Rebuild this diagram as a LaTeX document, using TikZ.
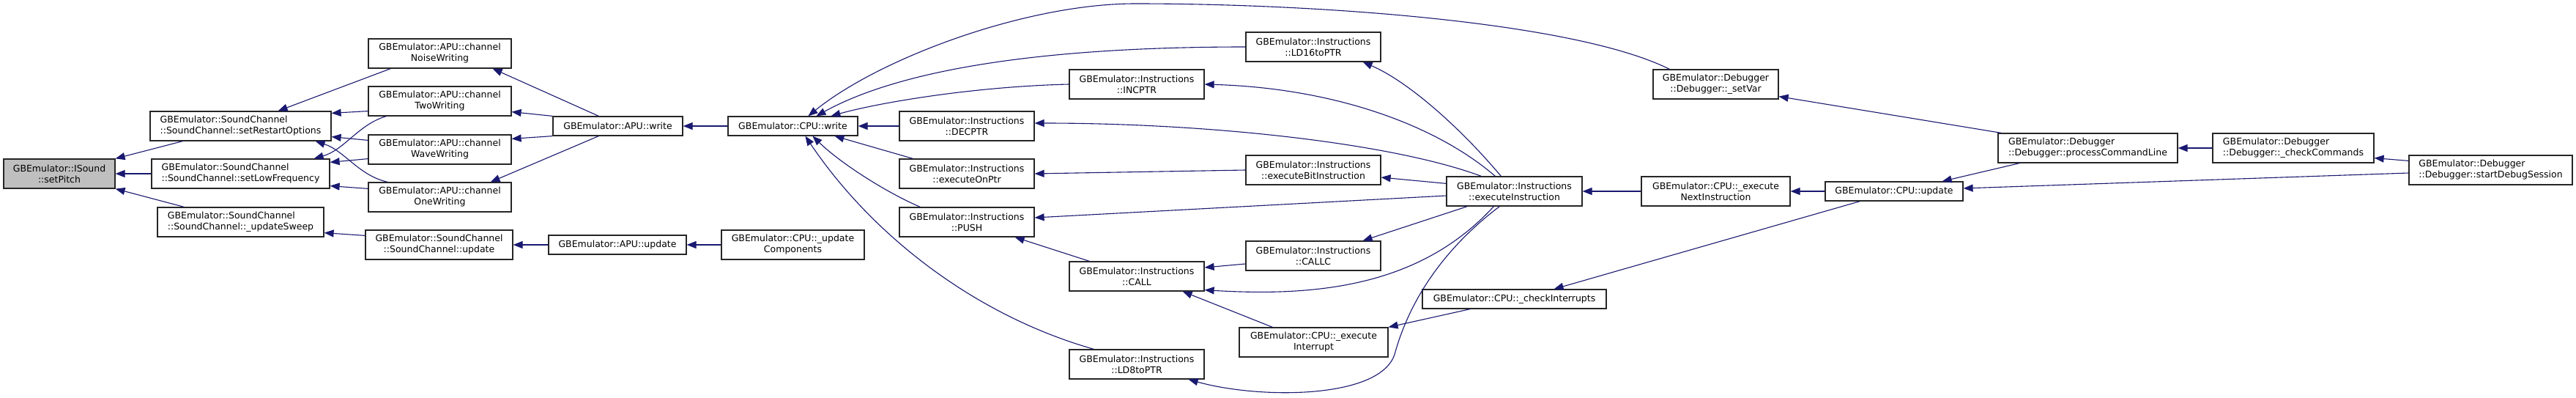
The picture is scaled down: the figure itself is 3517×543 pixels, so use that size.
\documentclass[tikz,border=0pt]{standalone}
\usepackage{fontspec}
\setmainfont{DejaVu Sans}
\usepackage{xcolor}
\usepackage{tikz}
\usetikzlibrary{arrows.meta,calc}

\definecolor{edgeblue}{HTML}{191970}
\definecolor{rootgray}{HTML}{BFBFBF}

\begin{document}
\begin{tikzpicture}[x=1pt,y=-1pt,
  fn/.style={draw=black!85,line width=1.2pt,inner xsep=4pt,inner ysep=0pt,
    minimum height=40pt,font=\fontsize{12.5}{15}\selectfont,align=center},
  fnl/.style={fn,align=left},
  fnone/.style={fn,minimum height=26pt},
  calls/.style={edgeblue,line width=1.1pt,-{Triangle[length=13pt,width=10pt]}}]
  \fill[white] (0,0) rectangle (3517,543);
  \useasboundingbox (0,0) rectangle (3517,543);

  % sound channel side
  \node[fn,fill=rootgray,minimum width=152pt] (setPitch) at (81,237) {GBEmulator::ISound\\::setPitch};
  \node[fnl,minimum width=247pt] (restartOpt) at (328.5,172) {GBEmulator::SoundChannel\\::SoundChannel::setRestartOptions};
  \node[fnl,minimum width=243pt] (lowFreq) at (328.5,237) {GBEmulator::SoundChannel\\::SoundChannel::setLowFrequency};
  \node[fnl,minimum width=227pt] (updSweep) at (328.5,303) {GBEmulator::SoundChannel\\::SoundChannel::\_updateSweep};
  \node[fn,minimum width=195pt] (noiseWr) at (600.5,73) {GBEmulator::APU::channel\\NoiseWriting};
  \node[fn,minimum width=195pt] (twoWr) at (600.5,138) {GBEmulator::APU::channel\\TwoWriting};
  \node[fn,minimum width=195pt] (waveWr) at (600.5,204) {GBEmulator::APU::channel\\WaveWriting};
  \node[fn,minimum width=195pt] (oneWr) at (600.5,269) {GBEmulator::APU::channel\\OneWriting};
  \node[fn,minimum width=201pt] (scUpdate) at (599.5,334) {GBEmulator::SoundChannel\\::SoundChannel::update};
  \node[fnone,minimum width=177pt] (apuWrite) at (843.5,172) {GBEmulator::APU::write};
  \node[fnone,minimum width=188pt] (apuUpdate) at (843,334) {GBEmulator::APU::update};
  \node[fnone,minimum width=177pt] (cpuWrite) at (1082.5,172) {GBEmulator::CPU::write};
  \node[fn,minimum width=195pt] (updComp) at (1082.5,334) {GBEmulator::CPU::\_update\\Components};

  % instructions
  \node[fn,minimum width=184pt] (decPtr) at (1320,172) {GBEmulator::Instructions\\::DECPTR};
  \node[fn,minimum width=184pt] (execOnPtr) at (1320,237) {GBEmulator::Instructions\\::executeOnPtr};
  \node[fn,minimum width=184pt] (push) at (1320,303) {GBEmulator::Instructions\\::PUSH};
  \node[fn,minimum width=184pt] (incPtr) at (1552,115) {GBEmulator::Instructions\\::INCPTR};
  \node[fn,minimum width=184pt] (callI) at (1552,377) {GBEmulator::Instructions\\::CALL};
  \node[fn,minimum width=184pt] (ld8) at (1552,497) {GBEmulator::Instructions\\::LD8toPTR};
  \node[fn,minimum width=184pt] (ld16) at (1793,64) {GBEmulator::Instructions\\::LD16toPTR};
  \node[fn,minimum width=184pt] (execBit) at (1793,232) {GBEmulator::Instructions\\::executeBitInstruction};
  \node[fn,minimum width=184pt] (callC) at (1793,349) {GBEmulator::Instructions\\::CALLC};
  \node[fn,minimum width=203pt] (execInt) at (1793.5,467) {GBEmulator::CPU::\_execute\\Interrupt};
  \node[fn,minimum width=185pt] (execInstr) at (2067.5,261) {GBEmulator::Instructions\\::executeInstruction};
  \node[fnone,minimum width=251pt] (checkInt) at (2067.5,408) {GBEmulator::CPU::\_checkInterrupts};

  % cpu and debugger
  \node[fn,minimum width=171pt] (setVar) at (2342.5,115) {GBEmulator::Debugger\\::Debugger::\_setVar};
  \node[fn,minimum width=203pt] (execNext) at (2342.5,261) {GBEmulator::CPU::\_execute\\NextInstruction};
  \node[fnone,minimum width=188pt] (cpuUpdate) at (2586,261) {GBEmulator::CPU::update};
  \node[fnl,minimum width=245pt] (procCmd) at (2850.5,202) {GBEmulator::Debugger\\::Debugger::processCommandLine};
  \node[fnl,minimum width=220pt] (checkCmd) at (3131,202) {GBEmulator::Debugger\\::Debugger::\_checkCommands};
  \node[fnl,minimum width=223pt] (startDbg) at (3400.5,232) {GBEmulator::Debugger\\::Debugger::startDebugSession};

  % callers of setPitch and the sound channel
  \draw[calls] ($(restartOpt.south west)+(45,0)$) -- (setPitch.north east);
  \draw[calls] (lowFreq.west) -- (setPitch.east);
  \draw[calls] ($(updSweep.north west)+(37,0)$) -- (setPitch.south east);
  \draw[calls] ($(noiseWr.south west)+(31,0)$) -- ($(restartOpt.north east)+(-73,0)$);
  \draw[calls] ($(twoWr.south west)+(0,-7)$) -- ($(restartOpt.north east)+(0,3)$);
  \draw[calls] ($(waveWr.north west)+(0,8)$) -- ($(restartOpt.south east)+(0,-6)$);
  \draw[calls] ($(oneWr.north west)+(27,0)$) .. controls +(-40,-9) and +(40,13) .. ($(restartOpt.south east)+(-22,0)$);
  \draw[calls] ($(twoWr.south west)+(25,0)$) .. controls +(-38,11) and +(42,-12) .. ($(lowFreq.north east)+(-22,0)$);
  \draw[calls] ($(waveWr.south west)+(0,-8)$) -- ($(lowFreq.north east)+(0,5)$);
  \draw[calls] ($(oneWr.north west)+(0,9)$) -- ($(lowFreq.south east)+(0,-4)$);
  \draw[calls] ($(scUpdate.north west)+(0,8)$) -- ($(updSweep.south east)+(0,-6)$);
  \draw[calls] ($(apuWrite.north west)+(63,0)$) -- ($(noiseWr.south east)+(-26,0)$);
  \draw[calls] (apuWrite.north west) -- ($(twoWr.south east)+(0,-6)$);
  \draw[calls] (apuWrite.south west) -- ($(waveWr.north east)+(0,6)$);
  \draw[calls] ($(apuWrite.south west)+(63,0)$) -- ($(oneWr.north east)+(-29,0)$);
  \draw[calls] (apuUpdate.west) -- (scUpdate.east);
  \draw[calls] (cpuWrite.west) -- (apuWrite.east);
  \draw[calls] (updComp.west) -- (apuUpdate.east);

  % callers of CPU::write
  \draw[calls] ($(setVar.north west)+(23,0)$) .. controls (2150,30) and (1800,5) .. (1550,5)
    .. controls (1400,5) and (1200,80) .. ($(cpuWrite.north west)+(110,0)$);
  \draw[calls] (ld16.west) .. controls (1400,64) and (1220,100) .. ($(cpuWrite.north west)+(121,0)$);
  \draw[calls] (incPtr.west) .. controls (1330,118) and (1200,140) .. ($(cpuWrite.north west)+(141,0)$);
  \draw[calls] (decPtr.west) -- (cpuWrite.east);
  \draw[calls] ($(execOnPtr.north west)+(19,0)$) -- ($(cpuWrite.south west)+(146,0)$);
  \draw[calls] ($(push.north west)+(29,0)$) .. controls (1215,265) and (1150,225) .. ($(cpuWrite.south west)+(116,0)$);
  \draw[calls] ($(ld8.north west)+(34,0)$) .. controls (1330,430) and (1190,320) .. ($(cpuWrite.south west)+(106,0)$);

  % executeInstruction and friends
  \draw[calls] ($(execInstr.north west)+(75,0)$) .. controls (1990,170) and (1920,110) .. ($(ld16.south east)+(-25,0)$);
  \draw[calls] ($(execInstr.north west)+(67,0)$) .. controls (1960,170) and (1820,120) .. (incPtr.east);
  \draw[calls] ($(execInstr.north west)+(48,0)$) .. controls (1900,195) and (1650,168) .. ($(decPtr.east)+(0,-4)$);
  \draw[calls] ($(execInstr.north west)+(0,10)$) -- ($(execBit.east)+(0,10)$);
  \draw[calls] (execBit.west) -- (execOnPtr.east);
  \draw[calls] ($(execInstr.west)+(0,6)$) -- ($(push.east)+(0,-6)$);
  \draw[calls] ($(execInstr.south west)+(29,0)$) -- ($(callC.north east)+(-25,0)$);
  \draw[calls] ($(execInstr.south west)+(65,0)$) .. controls (1940,390) and (1800,405) .. ($(callI.south east)+(0,-2)$);
  \draw[calls] ($(execInstr.south west)+(73,0)$) .. controls (1970,340) and (1925,410) .. (1905,480)
    .. controls (1890,545) and (1720,545) .. ($(ld8.south east)+(-22,0)$);
  \draw[calls] ($(callC.west)+(0,11)$) -- ($(callI.east)+(0,-12)$);
  \draw[calls] ($(callI.north west)+(28,0)$) -- ($(push.south east)+(-27,0)$);
  \draw[calls] ($(execInt.north west)+(46,0)$) -- ($(callI.south east)+(-30,0)$);
  \draw[calls] ($(checkInt.south west)+(66,0)$) -- (execInt.north east);

  % cpu update and debugger
  \draw[calls] ($(cpuUpdate.south west)+(48,0)$) -- ($(checkInt.north east)+(-72,0)$);
  \draw[calls] (execNext.west) -- (execInstr.east);
  \draw[calls] (cpuUpdate.west) -- (execNext.east);
  \draw[calls] ($(procCmd.south west)+(30,0)$) -- ($(cpuUpdate.north east)+(-29,0)$);
  \draw[calls] ($(startDbg.west)+(0,4)$) -- ($(cpuUpdate.east)+(0,-4)$);
  \draw[calls] ($(procCmd.north west)+(5,0)$) -- ($(setVar.south east)+(0,-4)$);
  \draw[calls] (checkCmd.west) -- (procCmd.east);
  \draw[calls] ($(startDbg.north west)+(0,8)$) -- ($(checkCmd.south east)+(0,-7)$);
\end{tikzpicture}
\end{document}
